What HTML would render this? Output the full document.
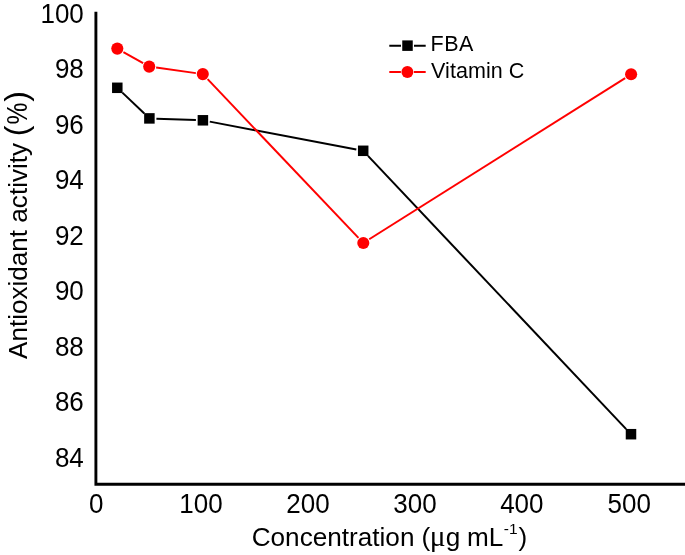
<!DOCTYPE html>
<html><head><meta charset="utf-8">
<style>
html,body{margin:0;padding:0;background:#fff;}
body{width:685px;height:555px;overflow:hidden;}
svg{display:block;will-change:transform;}
text{font-family:"Liberation Sans",sans-serif;fill:#000;}
.t{font-size:26px;}
.a{font-size:26.1px;}
.l{font-size:21.5px;}
</style></head><body>
<svg width="685" height="555" viewBox="0 0 685 555">
<rect width="685" height="555" fill="#fff"/>
<path d="M95.9 11.8 V484.3 H685" fill="none" stroke="#000" stroke-width="2.9"/>
<g class="t" text-anchor="end">
<text transform="translate(83.8 22.50) scale(1 1.05)">100</text>
<text transform="translate(83.8 78.02) scale(1 1.05)">98</text>
<text transform="translate(83.8 133.54) scale(1 1.05)">96</text>
<text transform="translate(83.8 189.06) scale(1 1.05)">94</text>
<text transform="translate(83.8 244.58) scale(1 1.05)">92</text>
<text transform="translate(83.8 300.10) scale(1 1.05)">90</text>
<text transform="translate(83.8 355.62) scale(1 1.05)">88</text>
<text transform="translate(83.8 411.14) scale(1 1.05)">86</text>
<text transform="translate(83.8 466.66) scale(1 1.05)">84</text>
</g>
<g class="t" text-anchor="middle">
<text transform="translate(96.1 513.4) scale(1 1.05)">0</text>
<text transform="translate(201 513.4) scale(1 1.05)">100</text>
<text transform="translate(308 513.4) scale(1 1.05)">200</text>
<text transform="translate(415 513.4) scale(1 1.05)">300</text>
<text transform="translate(521.8 513.4) scale(1 1.05)">400</text>
<text transform="translate(629.2 513.4) scale(1 1.05)">500</text>
</g>
<text style="font-size:26.15px" x="251.7" y="546.4">Concentration<tspan dx="-0.2"> (</tspan><tspan font-family="Liberation Serif" font-size="29.5" dx="-0.5">μ</tspan><tspan dx="0.3">g</tspan><tspan dx="-0.6"> mL</tspan><tspan font-size="15.5" dy="-12.6" dx="0.4">-1</tspan><tspan dy="12.6" dx="0.9">)</tspan></text>
<g transform="translate(26.6 226) rotate(-90)">
<text style="font-size:26.1px" x="-133">Antioxidant activity</text>
<text style="font-size:32px" x="89.7">(</text>
<text style="font-size:26px" transform="translate(101.6 0.6) scale(0.95 1.15)">%</text>
<text style="font-size:32px" x="124.2">)</text>
</g>
<line x1="122.37" y1="92.63" x2="144.33" y2="113.57" stroke="#000" stroke-width="2"/>
<line x1="156.40" y1="118.65" x2="195.90" y2="120.05" stroke="#000" stroke-width="2"/>
<line x1="209.78" y1="121.61" x2="356.32" y2="149.49" stroke="#000" stroke-width="2"/>
<line x1="368.01" y1="155.89" x2="626.19" y2="429.11" stroke="#000" stroke-width="2"/>
<line x1="123.40" y1="52.04" x2="143.10" y2="63.16" stroke="#f00" stroke-width="2"/>
<line x1="156.13" y1="67.57" x2="195.87" y2="73.13" stroke="#f00" stroke-width="2"/>
<line x1="207.62" y1="79.17" x2="358.48" y2="237.93" stroke="#f00" stroke-width="2"/>
<line x1="369.22" y1="239.27" x2="625.18" y2="78.03" stroke="#f00" stroke-width="2"/>

<g fill="#000">
<rect x="112.05" y="82.55" width="10.5" height="10.5"/>
<rect x="144.15" y="113.15" width="10.5" height="10.5"/>
<rect x="197.65" y="115.05" width="10.5" height="10.5"/>
<rect x="357.95" y="145.55" width="10.5" height="10.5"/>
<rect x="625.75" y="428.95" width="10.5" height="10.5"/>
</g>
<g fill="#f00">
<circle cx="117.3" cy="48.6" r="6.05"/>
<circle cx="149.2" cy="66.6" r="6.05"/>
<circle cx="202.8" cy="74.1" r="6.05"/>
<circle cx="363.3" cy="243" r="6.05"/>
<circle cx="631.1" cy="74.3" r="6.05"/>
</g>
<path d="M389.3 45.8H401M414 45.8H425.7" stroke="#000" stroke-width="2"/>
<rect x="402.25" y="40.4" width="10.5" height="10.5" fill="#000"/>
<text class="l" x="430.6" y="51" style="letter-spacing:0.45px">FBA</text>
<path d="M389.3 72.1H400.9M413.9 72.1H425.7" stroke="#f00" stroke-width="2"/>
<circle cx="407.4" cy="72.05" r="5.95" fill="#f00"/>
<text class="l" x="431.1" y="77.65" style="letter-spacing:0.05px">Vitamin C</text>
</svg>
</body></html>
